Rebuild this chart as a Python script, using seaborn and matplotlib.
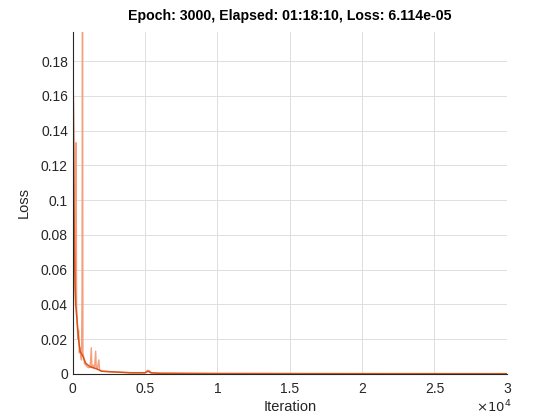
import matplotlib
matplotlib.use("Agg")
import matplotlib.pyplot as plt
import seaborn as sns
from matplotlib.ticker import FuncFormatter

# raw loss (iteration, loss)
raw_iter = [0, 20, 50, 80, 110, 140, 170, 200, 230, 260, 300, 350, 400, 450,
            500, 550, 600, 640, 670, 700, 750, 800, 900, 1000, 1100, 1200,
            1280, 1320, 1400, 1500, 1580, 1620, 1700, 1800, 1850, 2000, 2500,
            3000, 3500, 4000, 4500, 5000, 5150, 5300, 5450, 6000, 8000, 10000,
            15000, 20000, 25000, 30000]
raw_loss = [0.19, 0.17, 0.155, 0.12, 0.07, 0.06, 0.05, 0.04, 0.133, 0.04,
            0.03, 0.02, 0.025, 0.012, 0.015, 0.010, 0.008, 0.045, 0.25, 0.012,
            0.010, 0.006, 0.005, 0.004, 0.0035, 0.004, 0.015, 0.004, 0.005,
            0.003, 0.013, 0.004, 0.003, 0.008, 0.002, 0.0015, 0.0012, 0.001,
            0.0008, 0.0006, 0.0005, 0.0006, 0.002, 0.0018, 0.0005, 0.0003,
            0.0002, 0.00015, 0.0001, 0.00008, 0.00007, 0.00006]

# smoothed loss
smooth_iter = [0, 40, 80, 120, 160, 200, 300, 400, 500, 700, 900, 1200, 1600,
               2000, 3000, 4000, 5000, 5200, 5400, 6000, 10000, 20000, 30000]
smooth_loss = [0.195, 0.15, 0.10, 0.07, 0.05, 0.04, 0.03, 0.02, 0.013, 0.01,
               0.006, 0.004, 0.003, 0.0015, 0.001, 0.0006, 0.0006, 0.0015,
               0.0006, 0.0003, 0.00015, 0.00008, 0.00006]

sns.set_style("white")
plt.rcParams['font.family'] = ['Liberation Sans', 'DejaVu Sans']

fig = plt.figure(figsize=(5.6, 4.2), dpi=100)
ax = fig.add_axes([0.13, 0.11, 0.775, 0.815])

sns.lineplot(x=raw_iter, y=raw_loss, ax=ax, color="#F2A07E", linewidth=1.0,
             estimator=None, sort=False)
sns.lineplot(x=smooth_iter, y=smooth_loss, ax=ax, color="#D95319",
             linewidth=1.1, estimator=None, sort=False)

ax.set_xlim(0, 30000)
ax.set_ylim(0, 0.197)
ax.set_xticks([0, 5000, 10000, 15000, 20000, 25000, 30000])
ax.set_yticks([0, 0.02, 0.04, 0.06, 0.08, 0.1, 0.12, 0.14, 0.16, 0.18])
ax.xaxis.set_major_formatter(FuncFormatter(lambda v, p: f"{v / 1e4:g}"))
ax.yaxis.set_major_formatter(FuncFormatter(lambda v, p: f"{v:g}"))

ax.grid(True, color="#DFDFDF", linewidth=0.7)
ax.set_axisbelow(True)
for s in ["top", "right"]:
    ax.spines[s].set_visible(False)
for s in ["left", "bottom"]:
    ax.spines[s].set_color("#262626")
    ax.spines[s].set_linewidth(0.8)
ax.tick_params(direction="in", length=4, width=0.8, colors="#262626",
               labelsize=10)
ax.tick_params(axis="y", pad=3.5)
ax.tick_params(axis="x", pad=6)

ax.set_xlabel("Iteration", fontsize=10.5, color="#262626", labelpad=3)
ax.set_ylabel("Loss", fontsize=10.5, color="#262626", labelpad=7)
ax.set_title("Epoch: 3000, Elapsed: 01:18:10, Loss: 6.114e-05",
             fontsize=10.2, fontweight="bold", color="black", pad=8)
ax.text(1.01, -0.112, r"$\times10^4$", transform=ax.transAxes, ha="right",
        va="baseline", fontsize=9.5, color="#262626")

fig.savefig("out.png", dpi=100)
